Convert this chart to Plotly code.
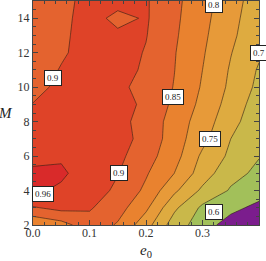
import plotly.graph_objects as go

# ---- data ----
e0_values = [0.0, 0.05, 0.10, 0.15, 0.20, 0.25, 0.30, 0.35, 0.40]
M_values = [2, 3, 4, 5, 6, 7, 8, 9, 10, 11, 12, 13, 14, 15]

efficiency = [
    [0.805, 0.830, 0.880, 0.845, 0.770, 0.675, 0.625, 0.575, 0.550],  # M=2
    [0.895, 0.915, 0.905, 0.870, 0.810, 0.710, 0.640, 0.615, 0.585],  # M=3
    [0.970, 0.950, 0.925, 0.890, 0.840, 0.760, 0.690, 0.645, 0.625],  # M=4
    [0.970, 0.970, 0.930, 0.902, 0.855, 0.800, 0.725, 0.665, 0.640],  # M=5
    [0.945, 0.952, 0.935, 0.912, 0.870, 0.820, 0.740, 0.690, 0.652],  # M=6
    [0.925, 0.935, 0.935, 0.918, 0.885, 0.825, 0.765, 0.700, 0.660],  # M=7
    [0.915, 0.930, 0.935, 0.915, 0.882, 0.830, 0.775, 0.718, 0.665],  # M=8
    [0.902, 0.925, 0.935, 0.920, 0.890, 0.840, 0.787, 0.730, 0.675],  # M=9
    [0.880, 0.915, 0.930, 0.910, 0.885, 0.848, 0.795, 0.740, 0.688],  # M=10
    [0.860, 0.905, 0.930, 0.920, 0.892, 0.851, 0.800, 0.745, 0.695],  # M=11
    [0.865, 0.890, 0.930, 0.920, 0.897, 0.853, 0.805, 0.752, 0.707],  # M=12
    [0.870, 0.888, 0.925, 0.910, 0.902, 0.857, 0.810, 0.760, 0.715],  # M=13
    [0.875, 0.887, 0.920, 0.886, 0.905, 0.860, 0.815, 0.765, 0.720],  # M=14
    [0.880, 0.886, 0.915, 0.918, 0.905, 0.862, 0.820, 0.770, 0.725],  # M=15
]

levels_main = [0.60, 0.65, 0.70, 0.75, 0.80, 0.85, 0.90]
level_top = 0.96

band_colors = ["#7b1d8d", "#a2c05a", "#c9b84a", "#deab40", "#e79a39",
               "#e9822f", "#e4632f", "#df4328"]
top_color = "#d92a2a"

labels_text = ["0.9", "0.96", "0.9", "0.85", "0.8", "0.75", "0.7", "0.6"]
labels_x = [0.036, 0.017, 0.152, 0.248, 0.320, 0.3125, 0.400, 0.320]
labels_y = [10.56, 3.79, 5.0, 9.4, 14.75, 7.02, 12.0, 2.75]

# ---- figure ----
n = len(band_colors)
cscale = []
for i, c in enumerate(band_colors):
    cscale.append([i / n, c])
    cscale.append([(i + 1) / n, c])

line_col = "rgba(45,30,20,0.85)"
step = levels_main[1] - levels_main[0]

fig = go.Figure()
fig.add_trace(go.Contour(
    x=e0_values, y=M_values, z=efficiency,
    autocontour=False,
    contours=dict(start=levels_main[0], end=levels_main[-1], size=step,
                  coloring="fill", showlines=True),
    colorscale=cscale, showscale=False,
    line=dict(color=line_col, width=0.7, smoothing=0),
    hoverinfo="skip",
))
fig.add_trace(go.Contour(
    x=e0_values, y=M_values, z=efficiency,
    autocontour=False,
    contours=dict(start=level_top, end=level_top, size=0.05,
                  coloring="fill", showlines=True),
    colorscale=[[0, "rgba(0,0,0,0)"], [0.5, "rgba(0,0,0,0)"],
                [0.5, top_color], [1, top_color]],
    showscale=False,
    line=dict(color=line_col, width=0.7, smoothing=0),
    hoverinfo="skip",
))

for t, lx, ly in zip(labels_text, labels_x, labels_y):
    fig.add_annotation(x=lx, y=ly, xref="x", yref="y", text=t, showarrow=False,
                       font=dict(family="Liberation Serif", size=9, color="#222"),
                       bgcolor="white", bordercolor="#222", borderwidth=1,
                       borderpad=2)

fig.add_annotation(x=0.5, y=-0.115, xref="paper", yref="paper",
                   xanchor="center", yanchor="middle",
                   text="<i>e</i><sub>0</sub>", showarrow=False,
                   font=dict(family="Liberation Serif", size=15, color="#222"))
fig.add_annotation(x=-0.12, y=0.5, xref="paper", yref="paper",
                   xanchor="center", yanchor="middle",
                   text="<i>M</i>", showarrow=False,
                   font=dict(family="Liberation Serif", size=15, color="#222"))

axis_common = dict(ticks="inside", mirror="allticks", showline=True,
                   linecolor="#444", linewidth=1, tickcolor="#444",
                   showgrid=False, zeroline=False,
                   tickfont=dict(family="Liberation Serif", size=12, color="#333"))

fig.update_xaxes(range=[0, 0.4], tickvals=[0, 0.1, 0.2, 0.3, 0.4],
                 ticktext=["0.0", "0.1", "0.2", "0.3", "0.4"], ticklen=5,
                 ticklabelstandoff=-3,
                 minor=dict(dtick=0.02, ticks="inside", ticklen=3, tickcolor="#444"),
                 **axis_common)
fig.update_yaxes(range=[2, 15], tickvals=[2, 4, 6, 8, 10, 12, 14], ticklen=5,
                 minor=dict(dtick=0.5, ticks="inside", ticklen=3, tickcolor="#444"),
                 **axis_common)

fig.update_layout(width=266, height=261, margin=dict(l=33, r=7, t=1, b=36),
                  paper_bgcolor="white", plot_bgcolor="white", showlegend=False)

fig.write_html("out.html", config={"displayModeBar": False},
               post_script="document.body.style.margin='0';document.body.style.overflow='hidden';")
